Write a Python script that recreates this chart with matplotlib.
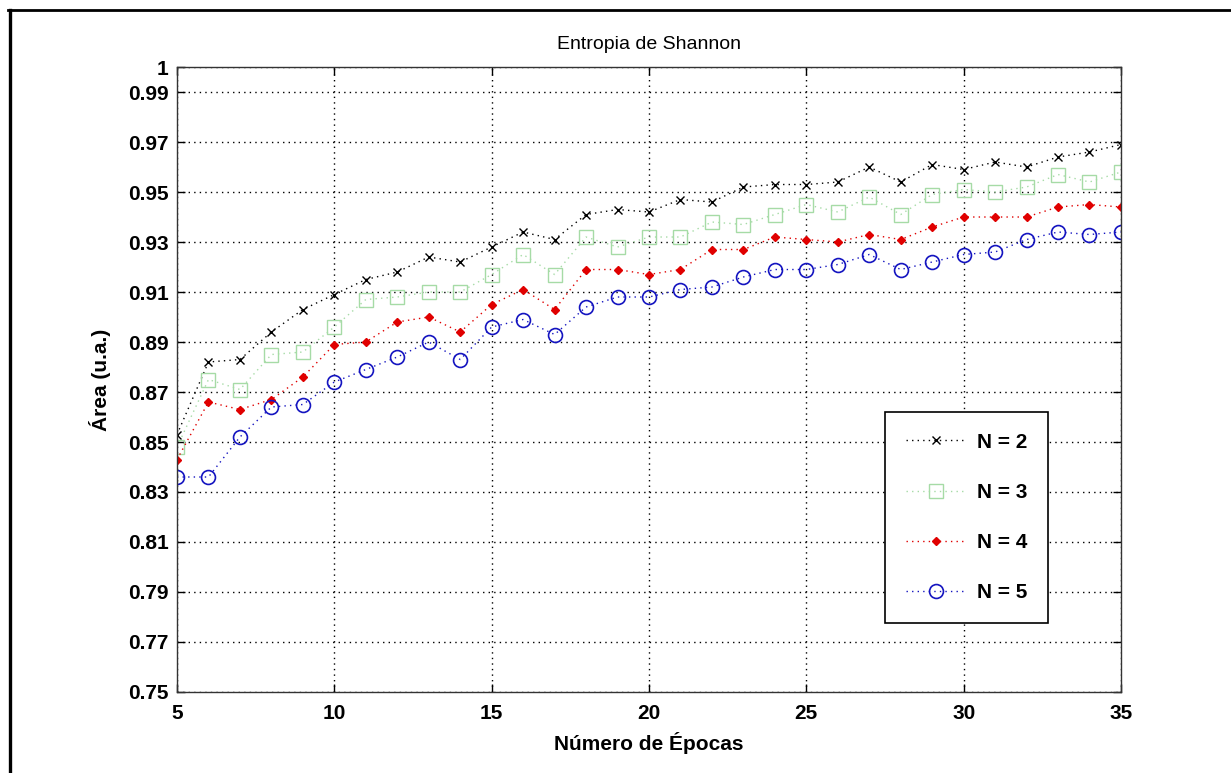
import matplotlib
matplotlib.use('Agg')
import matplotlib.pyplot as plt
from matplotlib.lines import Line2D

# Numero de epocas
epocas = list(range(5, 36))

# Area (u.a.) para cada N
area_n2 = [0.853, 0.882, 0.883, 0.894, 0.903, 0.909, 0.915, 0.918, 0.924, 0.922,
           0.928, 0.934, 0.931, 0.941, 0.943, 0.942, 0.947, 0.946, 0.952, 0.953,
           0.953, 0.954, 0.960, 0.954, 0.961, 0.959, 0.962, 0.960, 0.964, 0.966,
           0.969]
area_n3 = [0.848, 0.875, 0.871, 0.885, 0.886, 0.896, 0.907, 0.908, 0.910, 0.910,
           0.917, 0.925, 0.917, 0.932, 0.928, 0.932, 0.932, 0.938, 0.937, 0.941,
           0.945, 0.942, 0.948, 0.941, 0.949, 0.951, 0.950, 0.952, 0.957, 0.954,
           0.958]
area_n4 = [0.843, 0.866, 0.863, 0.867, 0.876, 0.889, 0.890, 0.898, 0.900, 0.894,
           0.905, 0.911, 0.903, 0.919, 0.919, 0.917, 0.919, 0.927, 0.927, 0.932,
           0.931, 0.930, 0.933, 0.931, 0.936, 0.940, 0.940, 0.940, 0.944, 0.945,
           0.944]
area_n5 = [0.836, 0.836, 0.852, 0.864, 0.865, 0.874, 0.879, 0.884, 0.890, 0.883,
           0.896, 0.899, 0.893, 0.904, 0.908, 0.908, 0.911, 0.912, 0.916, 0.919,
           0.919, 0.921, 0.925, 0.919, 0.922, 0.925, 0.926, 0.931, 0.934, 0.933,
           0.934]

rotulos = ['N = 2', 'N = 3', 'N = 4', 'N = 5']
yticks = [0.75, 0.77, 0.79, 0.81, 0.83, 0.85, 0.87, 0.89, 0.91, 0.93, 0.95, 0.97, 0.99, 1]
ytick_labels = ['0.75', '0.77', '0.79', '0.81', '0.83', '0.85', '0.87', '0.89',
                '0.91', '0.93', '0.95', '0.97', '0.99', '1']
xticks = [5, 10, 15, 20, 25, 30, 35]

plt.rcParams['font.family'] = ['Liberation Sans', 'DejaVu Sans']

pontilhado = (0, (1, 3))

fig = plt.figure(figsize=(12.31, 7.73), dpi=100)
ax = fig.add_axes([0.1438, 0.1048, 0.7668, 0.8085])

ax.plot(epocas, area_n2, ls=pontilhado, color='k', lw=1.0, marker='x', ms=6, mew=1.0,
        label=rotulos[0])
ax.plot(epocas, area_n3, ls=pontilhado, color='#a6dba6', lw=1.0, marker='s', ms=10,
        mfc='none', mec='#a6dba6', mew=1.0, label=rotulos[1])
ax.plot(epocas, area_n4, ls=pontilhado, color='#e00000', lw=1.0, marker='D', ms=4.5,
        mfc='#e00000', mec='#e00000', label=rotulos[2])
ax.plot(epocas, area_n5, ls=pontilhado, color='#1414c0', lw=1.0, marker='o', ms=10,
        mfc='none', mec='#1414c0', mew=1.2, label=rotulos[3])

ax.set_xlim(5, 35)
ax.set_ylim(0.75, 1)
ax.set_xticks(xticks)
ax.set_yticks(yticks)
ax.set_yticklabels(ytick_labels)
ax.grid(True, linestyle=pontilhado, color='k', lw=1.0)
ax.tick_params(direction='in', length=6, width=1, top=True, right=True,
               labelsize=15, colors='k')
ax.tick_params(axis='x', pad=9)
ax.tick_params(axis='y', pad=6)
for lab in ax.get_xticklabels() + ax.get_yticklabels():
    lab.set_fontweight('bold')
for sp in ax.spines.values():
    sp.set_color('#333333')
    sp.set_linewidth(1.0)

ax.set_title('Entropia de Shannon', fontsize=14, pad=13,
             family=['Liberation Sans Narrow', 'Liberation Sans'])
ax.set_xlabel('Número de Épocas', fontsize=15, fontweight='bold', labelpad=6)
ax.set_ylabel('Área (u.a.)', fontsize=15, fontweight='bold', labelpad=12)

leg = ax.legend(loc='lower left', bbox_to_anchor=(0.75, 0.11), fancybox=False,
                edgecolor='k', framealpha=1, prop={'size': 15, 'weight': 'bold'},
                handlelength=2.9, labelspacing=1.5, borderpad=1.0, handletextpad=0.5,
                borderaxespad=0)
leg.get_frame().set_linewidth(1.2)

# moldura preta da figura (topo e esquerda)
fig.add_artist(Line2D([8 / 1231, 1], [1 - 10 / 773, 1 - 10 / 773], color='k', lw=2,
                      transform=fig.transFigure))
fig.add_artist(Line2D([10 / 1231, 10 / 1231], [0, 1 - 10 / 773], color='k', lw=2.4,
                      transform=fig.transFigure))

fig.savefig('out.png', dpi=100)
